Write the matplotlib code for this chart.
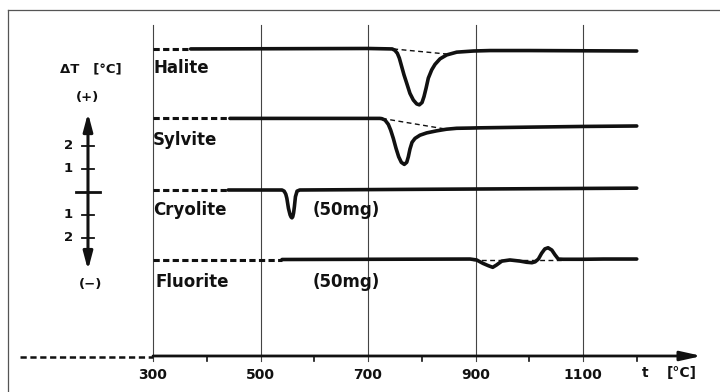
import matplotlib
matplotlib.use("Agg")
import matplotlib.pyplot as plt
from matplotlib.lines import Line2D

plt.rcParams['font.family'] = ['DejaVu Sans']
plt.rcParams['lines.scale_dashes'] = False

# ---------------- data ----------------
minerals = ["Halite", "Sylvite", "Cryolite", "Fluorite"]
notes = ["", "", "(50mg)", "(50mg)"]
x_tick_values = [300, 500, 700, 900, 1100]
x_minor_ticks = [400, 600, 800, 1000, 1200]
dT_tick_values = [2, 1, -1, -2]
dT_tick_labels = ["2", "1", "1", "2"]

# Halite
halite_T = [370, 700, 745, 750, 754.6, 758.3, 762.7, 767, 772, 778, 784.3, 790.6,
            795.5, 800.5, 804.2, 808, 812.2, 818.5, 824.7, 834, 846.4, 865, 896,
            927, 1000, 1200]
halite_dT = [0, 0.02, 0, -0.06, -0.19, -0.40, -0.77, -1.13, -1.49, -1.93, -2.22,
             -2.39, -2.43, -2.33, -2.07, -1.71, -1.27, -0.91, -0.67, -0.43, -0.26,
             -0.14, -0.09, -0.07, -0.07, -0.09]
halite_pre_T = [300, 370]
halite_pre_dT = [0, 0]
halite_base_T = [747, 846]
halite_base_dT = [0, -0.22]

# Sylvite
sylvite_T = [443, 722, 725.5, 731.6, 737.8, 742.2, 747.1, 752.1, 757.1, 762, 767.5,
             772, 775, 778.1, 781.9, 787.4, 796.7, 809.2, 827.8, 846, 865, 890, 908,
             1000, 1100, 1200]
sylvite_dT = [0, 0, -0.01, -0.07, -0.26, -0.51, -0.87, -1.30, -1.67, -1.91, -2.0,
              -1.91, -1.67, -1.33, -1.04, -0.87, -0.73, -0.63, -0.54, -0.47, -0.43,
              -0.42, -0.41, -0.38, -0.35, -0.33]
sylvite_pre_T = [300, 443]
sylvite_pre_dT = [0, 0]
sylvite_base_T = [726, 846]
sylvite_base_dT = [0, -0.47]

# Cryolite
cryolite_T = [440, 540, 544, 547, 549, 552, 555, 557, 558.5, 560, 561.5, 563,
              565, 568, 573, 800, 1200]
cryolite_dT = [0, 0, -0.05, -0.18, -0.36, -0.80, -1.08, -1.18, -1.21, -1.16,
               -1.0, -0.73, -0.29, -0.05, 0, 0.03, 0.08]
cryolite_pre_T = [300, 440]
cryolite_pre_dT = [0, 0]

# Fluorite
fluorite_T = [540, 890, 902, 914, 924, 932, 939, 949, 964, 983, 995, 1005,
              1011, 1017, 1023, 1029, 1035, 1042, 1048, 1054, 1063, 1101, 1138, 1200]
fluorite_dT = [0, 0.02, -0.02, -0.17, -0.27, -0.34, -0.24, -0.07, -0.02, -0.07,
               -0.12, -0.14, -0.10, 0.02, 0.27, 0.46, 0.51, 0.41, 0.20, 0.02,
               0.01, 0.01, 0.02, 0.02]
fluorite_pre_T = [300, 540]
fluorite_pre_dT = [0, 0]
fluorite_base_T = [895, 1062]
fluorite_base_dT = [0, 0]

# ---------------- layout / style ----------------
offsets = [6.22, 3.20, 0.087, -2.935]   # vertical placement of each trace
INK = "#111111"
GRID = "#444444"
LW = 2.6

fig = plt.figure(figsize=(7.2, 3.92), dpi=100)
ax = fig.add_axes([0, 0, 1, 1])
ax.set_xlim(15.3, 1354.9)
ax.set_ylim(-8.696, 8.348)
ax.axis("off")

# frame (scanned page border)
fig.add_artist(Line2D([8/720, 1], [1-10/392, 1-10/392], transform=fig.transFigure,
                      color="#555555", lw=0.9))
fig.add_artist(Line2D([8/720, 8/720], [0, 1-10/392], transform=fig.transFigure,
                      color="#555555", lw=0.9))

# grid lines
y_axis_pos = -7.13
for t in x_tick_values:
    ax.plot([t, t], [7.26, y_axis_pos - 0.2], color=GRID, lw=0.8, zorder=1)
for t in x_minor_ticks:
    ax.plot([t, t], [y_axis_pos, y_axis_pos - 0.22], color=INK, lw=1.2, zorder=1)

# traces
curves = [
    (halite_T, halite_dT, halite_pre_T, halite_pre_dT, halite_base_T, halite_base_dT),
    (sylvite_T, sylvite_dT, sylvite_pre_T, sylvite_pre_dT, sylvite_base_T, sylvite_base_dT),
    (cryolite_T, cryolite_dT, cryolite_pre_T, cryolite_pre_dT, None, None),
    (fluorite_T, fluorite_dT, fluorite_pre_T, fluorite_pre_dT, fluorite_base_T, fluorite_base_dT),
]
for (T, dT, pT, pdT, bT, bdT), off in zip(curves, offsets):
    ax.plot(T, [off + v for v in dT], color=INK, lw=LW, solid_joinstyle="round",
            solid_capstyle="round", zorder=3)
    ax.plot(pT, [off + v for v in pdT], color=INK, lw=2.2, dashes=(4.5, 2.4), zorder=3)
    if bT is not None:
        ax.plot(bT, [off + v for v in bdT], color=INK, lw=1.0, dashes=(3.5, 2.5), zorder=2)

# mineral labels
label_y = [5.39, 2.26, -0.78, -3.91]
label_x = [300, 300, 300, 304]
for name, lx, ly in zip(minerals, label_x, label_y):
    ax.text(lx, ly, name, fontsize=12, fontweight="bold", color=INK, ha="left", va="center")
for note, ly in zip(notes, label_y):
    if note:
        ax.text(597, ly, note, fontsize=12, fontweight="bold", color=INK, ha="left", va="center")

# x axis
ax.annotate("", xy=(1321, y_axis_pos), xytext=(300, y_axis_pos),
            arrowprops=dict(arrowstyle="-|>,head_length=0.9,head_width=0.2",
                            mutation_scale=14, color=INK, lw=2.0, shrinkA=0, shrinkB=0))
ax.plot([52, 300], [y_axis_pos - 0.05, y_axis_pos - 0.05], color=INK, lw=1.8,
        dashes=(4.5, 2.6))
for t in x_tick_values:
    ax.text(t, -7.96, str(t), fontsize=10, fontweight="bold", color=INK,
            ha="center", va="center")
ax.text(1215, -7.87, "t", fontsize=10, fontweight="bold", color=INK, ha="center", va="center")
ax.text(1256, -7.87, "[°C]", fontsize=10, fontweight="bold", color=INK, ha="left", va="center")

# delta-T scale
ax_x = 179
ax.annotate("", xy=(ax_x, 3.43), xytext=(ax_x, -3.39),
            arrowprops=dict(arrowstyle="<|-|>,head_length=0.75,head_width=0.2",
                            mutation_scale=14, color=INK, lw=2.2, shrinkA=0, shrinkB=0))
ax.plot([ax_x - 22, ax_x + 22], [0, 0], color=INK, lw=2.0)
for v, lab in zip(dT_tick_values, dT_tick_labels):
    ax.plot([ax_x - 11, ax_x + 11], [v, v], color=INK, lw=1.3)
    ax.text(142, v, lab, fontsize=9.5, fontweight="bold", color=INK, ha="center", va="center")
ax.text(185, 5.35, "ΔT   [°C]", fontsize=9.5, fontweight="bold", color=INK,
        ha="center", va="center")
ax.text(179, 4.09, "(+)", fontsize=9.5, fontweight="bold", color=INK, ha="center", va="center")
ax.text(183, -4.04, "(−)", fontsize=9.5, fontweight="bold", color=INK, ha="center", va="center")

fig.savefig("out.png", dpi=100)
